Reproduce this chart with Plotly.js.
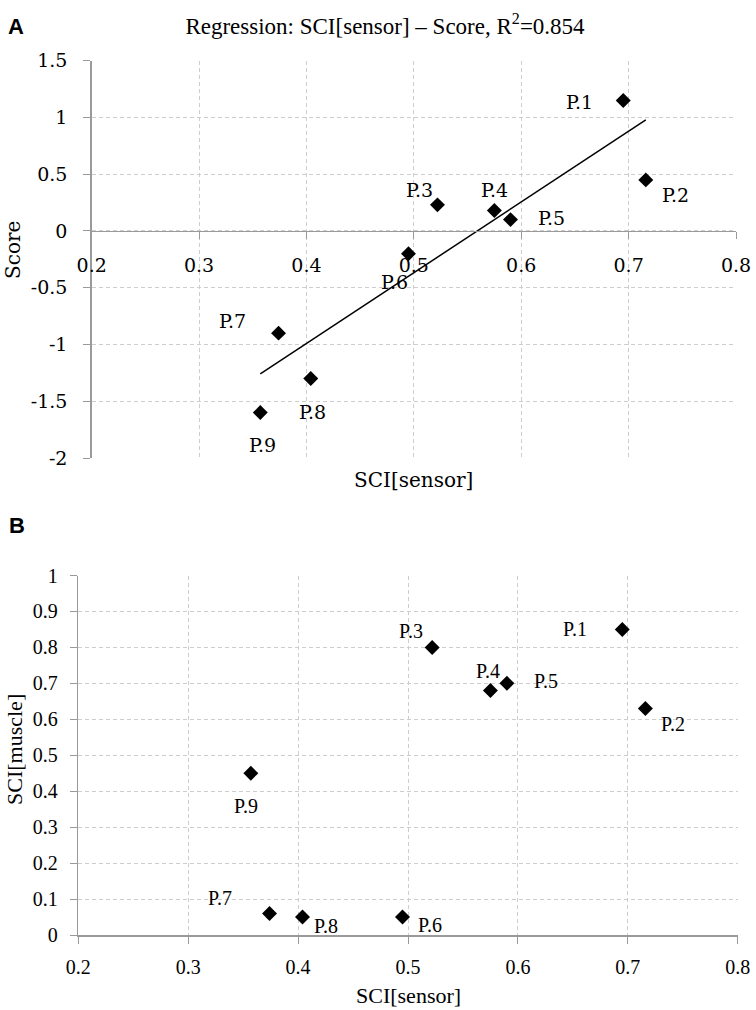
<!DOCTYPE html>
<html>
<head>
<meta charset="utf-8">
<script src="https://cdn.plot.ly/plotly-3.0.1.min.js"></script>
<style>
  html, body { margin: 0; padding: 0; background: #fff; }
  #chart { width: 756px; height: 1010px; }
</style>
</head>
<body>
<div id="chart"></div>
<script>
// ---- Data ----
const participants = ['P.1', 'P.2', 'P.3', 'P.4', 'P.5', 'P.6', 'P.7', 'P.8', 'P.9'];
const sciSensor = [0.695, 0.716, 0.522, 0.575, 0.590, 0.495, 0.374, 0.404, 0.357];
const score     = [1.15, 0.45, 0.23, 0.18, 0.10, -0.20, -0.90, -1.30, -1.60];
const sciMuscle = [0.85, 0.63, 0.80, 0.68, 0.70, 0.05, 0.06, 0.05, 0.45];

const xTickVals = [0.2, 0.3, 0.4, 0.5, 0.6, 0.7, 0.8];
const xTickText = ['0.2', '0.3', '0.4', '0.5', '0.6', '0.7', '0.8'];
const scoreTickVals = [-2, -1.5, -1, -0.5, 0, 0.5, 1, 1.5];
const scoreTickText = ['-2', '-1.5', '-1', '-0.5', '0', '0.5', '1', '1.5'];
const muscleTickVals = [0, 0.1, 0.2, 0.3, 0.4, 0.5, 0.6, 0.7, 0.8, 0.9, 1];
const muscleTickText = ['0', '0.1', '0.2', '0.3', '0.4', '0.5', '0.6', '0.7', '0.8', '0.9', '1'];

const titleText = 'Regression: SCI[sensor] \u2013 Score, R<sup>2</sup>=0.854';

// ---- Label placement (pixel offsets: right, down) ----
const offsA = [[-44, 2], [30, 15], [-18, -15], [0, -21], [41, -2], [-14, 28], [-46, -12], [2, 33], [2, 32]];
const offsB = [[-47, 0], [28, 15], [-21, -16], [-2, -20], [39, -2], [27, 8], [-50, -15], [23, 9], [-5, 33]];

// ---- Least-squares trend line for panel A ----
const n = sciSensor.length;
const mx = sciSensor.reduce((a, b) => a + b, 0) / n;
const my = score.reduce((a, b) => a + b, 0) / n;
let sxy = 0, sxx = 0;
for (let i = 0; i < n; i++) { sxy += (sciSensor[i] - mx) * (score[i] - my); sxx += (sciSensor[i] - mx) ** 2; }
const slope = sxy / sxx, icpt = my - slope * mx;
const xMin = Math.min(...sciSensor), xMax = Math.max(...sciSensor);

// ---- Geometry ----
const W = 756, H = 1010;
const axA = [91.7 / W, 736 / W];
const ayA = [1 - 458 / H, 1 - 60.7 / H];
const axB = [78.3 / W, 737.7 / W];
const ayB = [1 - 935 / H, 1 - 575.5 / H];
const yRangeA = [-2, 1.5];
const zeroPosA = ayA[0] + (0 - yRangeA[0]) / (yRangeA[1] - yRangeA[0]) * (ayA[1] - ayA[0]);

const fontA = 'DejaVu Serif';
const fontB = 'Liberation Serif';
const gridC = '#cdcdcd';
const gridDash = '4px,3px';
const lineC = '#9a9a9a';

const traces = [
  {
    x: [xMin, xMax], y: [slope * xMin + icpt, slope * xMax + icpt],
    type: 'scatter', mode: 'lines', xaxis: 'x', yaxis: 'y',
    line: { color: '#000', width: 1.5 }, hoverinfo: 'skip'
  },
  {
    x: sciSensor, y: score, type: 'scatter', mode: 'markers', xaxis: 'x', yaxis: 'y',
    marker: { symbol: 'diamond', size: 11.5, color: '#000' }
  },
  {
    x: sciSensor, y: sciMuscle, type: 'scatter', mode: 'markers', xaxis: 'x2', yaxis: 'y2',
    marker: { symbol: 'diamond', size: 11.5, color: '#000' }
  }
];

const annotations = [];
participants.forEach((p, i) => {
  annotations.push({
    x: sciSensor[i], y: score[i], xref: 'x', yref: 'y', text: p, showarrow: false,
    xshift: offsA[i][0], yshift: -offsA[i][1], xanchor: 'center', yanchor: 'middle',
    font: { family: fontA, size: 19, color: '#000' }
  });
  annotations.push({
    x: sciSensor[i], y: sciMuscle[i], xref: 'x2', yref: 'y2', text: p, showarrow: false,
    xshift: offsB[i][0], yshift: -offsB[i][1], xanchor: 'center', yanchor: 'middle',
    font: { family: fontB, size: 20, color: '#000' }
  });
});
// axis titles and panel letters
annotations.push(
  { x: (axA[0] + axA[1]) / 2, y: 1 - 480 / H, xref: 'paper', yref: 'paper', text: 'SCI[sensor]',
    showarrow: false, xanchor: 'center', yanchor: 'middle', font: { family: fontA, size: 20, color: '#000' } },
  { x: 13 / W, y: 1 - 250 / H, xref: 'paper', yref: 'paper', text: 'Score', textangle: -90,
    showarrow: false, xanchor: 'center', yanchor: 'middle', font: { family: fontA, size: 20, color: '#000' } },
  { x: (axB[0] + axB[1]) / 2, y: 1 - 995 / H, xref: 'paper', yref: 'paper', text: 'SCI[sensor]',
    showarrow: false, xanchor: 'center', yanchor: 'middle', font: { family: fontB, size: 22, color: '#000' } },
  { x: 14 / W, y: 1 - 750 / H, xref: 'paper', yref: 'paper', text: 'SCI[muscle]', textangle: -90,
    showarrow: false, xanchor: 'center', yanchor: 'middle', font: { family: fontB, size: 22, color: '#000' } },
  { x: 16 / W, y: 1 - 26 / H, xref: 'paper', yref: 'paper', text: '<b>A</b>',
    showarrow: false, xanchor: 'center', yanchor: 'middle', font: { family: 'Liberation Sans', size: 22, color: '#000' } },
  { x: 17 / W, y: 1 - 525 / H, xref: 'paper', yref: 'paper', text: '<b>B</b>',
    showarrow: false, xanchor: 'center', yanchor: 'middle', font: { family: 'Liberation Sans', size: 22, color: '#000' } }
);

function axisStyle(extra) {
  return Object.assign({
    showline: true, linecolor: lineC, linewidth: 1.5,
    ticks: 'outside', ticklen: 7, tickcolor: lineC, tickwidth: 1,
    showgrid: true, gridcolor: gridC, griddash: gridDash, gridwidth: 1,
    zeroline: false
  }, extra);
}

const layout = {
  width: W, height: H, autosize: false,
  margin: { l: 0, r: 0, t: 0, b: 0, pad: 0 },
  paper_bgcolor: '#fff', plot_bgcolor: '#fff',
  showlegend: false,
  title: { text: titleText, x: 385 / W, xanchor: 'center', y: 1 - 26 / H, yanchor: 'middle',
           font: { family: fontB, size: 23, color: '#000' } },
  xaxis: axisStyle({
    domain: axA, range: [0.2, 0.8], anchor: 'free', position: zeroPosA,
    tickvals: xTickVals, ticktext: xTickText, ticklabelstandoff: 10,
    tickfont: { family: fontA, size: 19, color: '#000' }
  }),
  yaxis: axisStyle({
    domain: ayA, range: yRangeA, anchor: 'x',
    tickvals: scoreTickVals, ticktext: scoreTickText, ticklabelstandoff: 12,
    tickfont: { family: fontA, size: 19, color: '#000' }
  }),
  xaxis2: axisStyle({
    domain: axB, range: [0.2, 0.8], anchor: 'y2',
    tickvals: xTickVals, ticktext: xTickText, ticklabelstandoff: 6,
    tickfont: { family: fontB, size: 20, color: '#000' }
  }),
  yaxis2: axisStyle({
    domain: ayB, range: [0, 1], anchor: 'x2',
    tickvals: muscleTickVals, ticktext: muscleTickText, ticklabelstandoff: 8,
    tickfont: { family: fontB, size: 20, color: '#000' }
  }),
  annotations: annotations
};

Plotly.newPlot('chart', traces, layout, { staticPlot: true, displayModeBar: false });
</script>
</body>
</html>
